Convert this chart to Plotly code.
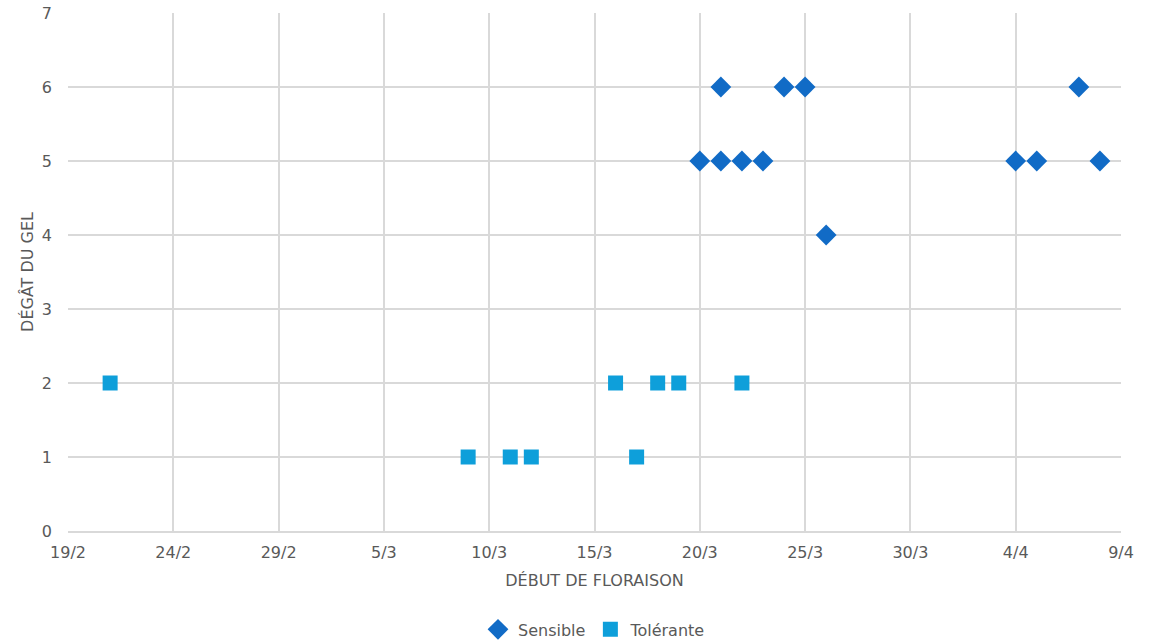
import plotly.graph_objects as go

sensible_dates = ["2020-03-20", "2020-03-21", "2020-03-21", "2020-03-22", "2020-03-23",
                  "2020-03-24", "2020-03-25", "2020-03-26", "2020-04-04", "2020-04-05",
                  "2020-04-07", "2020-04-08"]
sensible_vals = [5, 6, 5, 5, 5, 6, 6, 4, 5, 5, 6, 5]

tolerante_dates = ["2020-02-21", "2020-03-09", "2020-03-11", "2020-03-12", "2020-03-16",
                   "2020-03-17", "2020-03-18", "2020-03-19", "2020-03-22"]
tolerante_vals = [2, 1, 1, 1, 2, 1, 2, 2, 2]

tick_dates = ["2020-02-19", "2020-02-24", "2020-02-29", "2020-03-05", "2020-03-10",
              "2020-03-15", "2020-03-20", "2020-03-25", "2020-03-30", "2020-04-04",
              "2020-04-09"]
tick_labels = ["19/2", "24/2", "29/2", "5/3", "10/3", "15/3", "20/3", "25/3", "30/3",
               "4/4", "9/4"]

font_family = "DejaVu Sans, sans-serif"
grey = "#595959"

fig = go.Figure()
fig.add_trace(go.Scatter(
    x=sensible_dates, y=sensible_vals, mode="markers", name="Sensible",
    marker=dict(symbol="diamond", size=16, color="#116BC6"),
))
fig.add_trace(go.Scatter(
    x=tolerante_dates, y=tolerante_vals, mode="markers", name="Tolérante",
    marker=dict(symbol="square", size=15, color="#0E9FDA"),
))

fig.update_layout(
    width=1150, height=643,
    paper_bgcolor="white", plot_bgcolor="white",
    margin=dict(l=68, r=29, t=13, b=112, autoexpand=False),
    font=dict(family=font_family, color=grey, size=16),
    legend=dict(orientation="h", x=0.5, xanchor="center", y=-0.19, yanchor="middle",
                font=dict(size=16, color=grey), itemwidth=30, tracegroupgap=0,
                traceorder="normal"),
    showlegend=True,
    annotations=[dict(text="DÉGÂT DU GEL", textangle=-90, xref="paper", yref="paper",
                      x=-0.039, y=0.5, xanchor="center", yanchor="middle",
                      showarrow=False, font=dict(size=16, color=grey))],
)
fig.update_xaxes(
    type="date", range=["2020-02-19", "2020-04-09"], automargin=False,
    tickvals=tick_dates, ticktext=tick_labels, ticklabeloverflow="allow",
    showgrid=True, gridcolor="#D9D9D9", gridwidth=1.5,
    showline=True, linecolor="#D9D9D9", linewidth=1.5,
    zeroline=False, ticks="", ticklabelstandoff=6,
    tickfont=dict(size=16, color=grey),
    title=dict(text="DÉBUT DE FLORAISON", font=dict(size=16, color=grey), standoff=14),
)
fig.update_yaxes(
    range=[0, 7], dtick=1, tick0=0, automargin=False, ticklabeloverflow="allow",
    showgrid=True, gridcolor="#D9D9D9", gridwidth=1.5,
    showline=False, zeroline=False, ticks="", ticklabelstandoff=15,
    tickfont=dict(size=16, color=grey),
)

fig.write_html("out.html", config={"displayModeBar": False},
               post_script="document.body.style.margin='0';")
